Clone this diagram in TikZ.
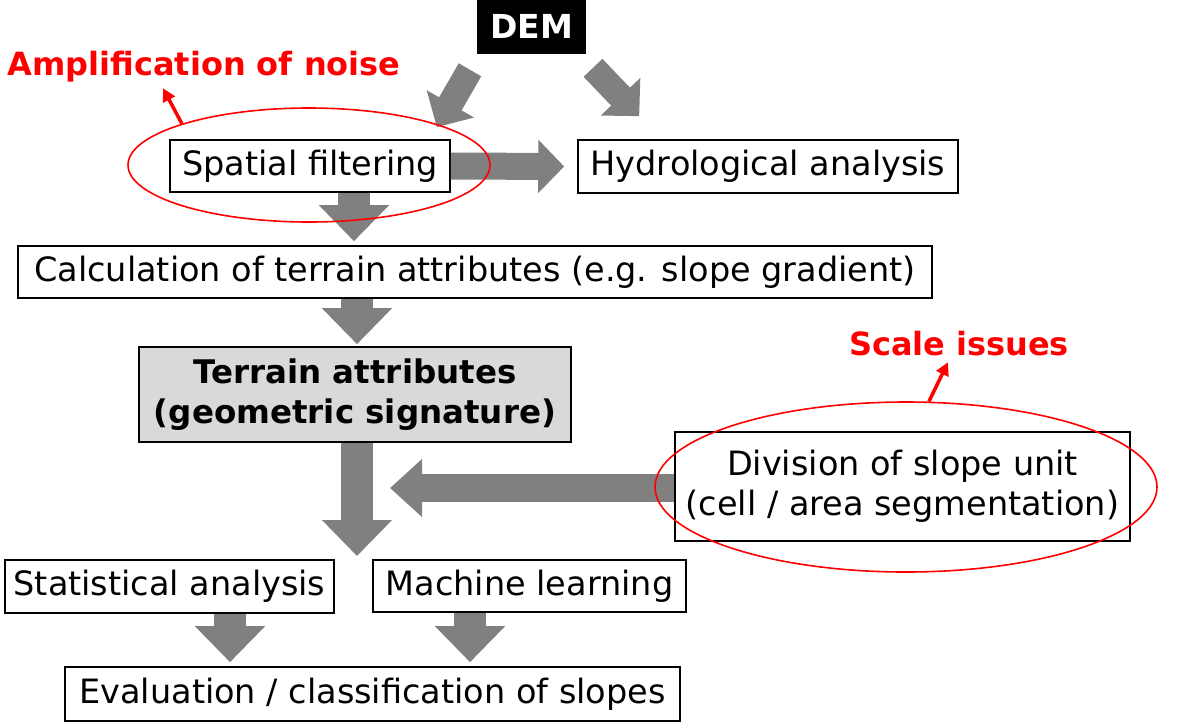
\documentclass[tikz,border=0pt]{standalone}
\usepackage{fontspec}
\setmainfont{DejaVu Sans}
\usetikzlibrary{arrows.meta,shapes.geometric}
\definecolor{arrgray}{RGB}{128,128,128}
\definecolor{boxgray}{RGB}{217,217,217}
\definecolor{lblred}{RGB}{255,0,0}
\begin{document}
\begin{tikzpicture}[x=1pt,y=-1pt,
  box/.style={draw=black,line width=1.6pt,fill=white,inner sep=0pt,
    font=\fontsize{33.5}{40}\selectfont,align=center},
  fatv/.style={draw=arrgray,line width=32pt,-{Triangle[length=36pt,width=68pt]}},
  fath/.style={draw=arrgray,line width=27pt,-{Triangle[length=26pt,width=52pt]}},
  fatd/.style={draw=arrgray,line width=26pt,-{Triangle[length=27pt,width=53pt]}},
  fatl/.style={draw=arrgray,line width=28pt,-{Triangle[length=32pt,width=56pt]}},
  redlbl/.style={text=lblred,font=\fontsize{32}{38}\selectfont\bfseries,
    inner sep=0pt,text height=23pt,text depth=7pt},
  ell/.style={draw=lblred,line width=1.6pt,ellipse,inner sep=0pt},
  redarr/.style={draw=lblred,line width=3.5pt,-{Triangle[length=13pt,width=13pt]}}
]
\useasboundingbox (0,0) rectangle (1183,724);

% nodes
\node[box,fill=black,text=white,font=\fontsize{33}{40}\selectfont\bfseries,
  minimum width=107pt,minimum height=53pt] (dem) at (531.5,26.5) {DEM};
\node[box,minimum width=280pt,minimum height=52pt] (sf) at (310,166) {Spatial filtering};
\node[box,minimum width=380pt,minimum height=53pt] (hy) at (768,166.5) {Hydrological analysis};
\node[box,minimum width=914pt,minimum height=52pt] (calc) at (475,272)
  {Calculation of terrain attributes (e.g. slope gradient)};
\node[box,fill=boxgray,font=\fontsize{32.5}{40}\selectfont\bfseries,
  minimum width=432pt,minimum height=95pt] (ta) at (355,394.5)
  {Terrain attributes\\(geometric signature)};
\node[box,minimum width=455pt,minimum height=109pt] (div) at (902.5,486.5)
  {Division of slope unit\\(cell / area segmentation)};
\node[box,minimum width=329pt,minimum height=53pt] (stat) at (169.5,586.5) {Statistical analysis};
\node[box,minimum width=313pt,minimum height=52pt] (ml) at (529.5,586) {Machine learning};
\node[box,minimum width=615pt,minimum height=54pt] (ev) at (372.5,694)
  {Evaluation / classification of slopes};

\coordinate (c1) at (357,556);
\coordinate (c2) at (390,488);

% fat arrows
\draw[fatd] ([xshift=-61.5pt,yshift=-16pt]dem.south) -- ([xshift=-14pt,yshift=12pt]sf.north east);
\draw[fatd] ([xshift=61.5pt,yshift=-14pt]dem.south) -- ([xshift=62pt,yshift=23pt]hy.north west);
\draw[fath] (sf.east) -- ([xshift=-13pt]hy.west);
\draw[fatv] ([xshift=44pt]sf.south) -- ([xshift=-121pt,yshift=4pt]calc.north);
\draw[fatv] ([xshift=-118pt]calc.south) -- ([xshift=2pt,yshift=2pt]ta.north);
\draw[fatv] ([xshift=2pt]ta.south) -- (c1);
\draw[fatl] ([yshift=-1.5pt]div.west) -- (c2);
\draw[fatv] ([xshift=60.5pt]stat.south) -- ([xshift=-142.5pt,yshift=4pt]ev.north);
\draw[fatv] ([xshift=-59.5pt]ml.south) -- ([xshift=97.5pt,yshift=4pt]ev.north);

% red annotations
\node[redlbl] (amp) at (204,67) {Amplification of noise};
\node[redlbl] (scl) at (959,347) {Scale issues};
\node[ell,minimum width=362pt,minimum height=114pt] (e1) at (309,165) {};
\node[ell,minimum width=502pt,minimum height=170pt] (e2) at (906,487) {};
\draw[redarr] (e1.162) -- ([xshift=-41pt,yshift=-6pt]amp.south);
\draw[redarr] (e2.75) -- ([xshift=-11pt]scl.south);
\end{tikzpicture}
\end{document}
